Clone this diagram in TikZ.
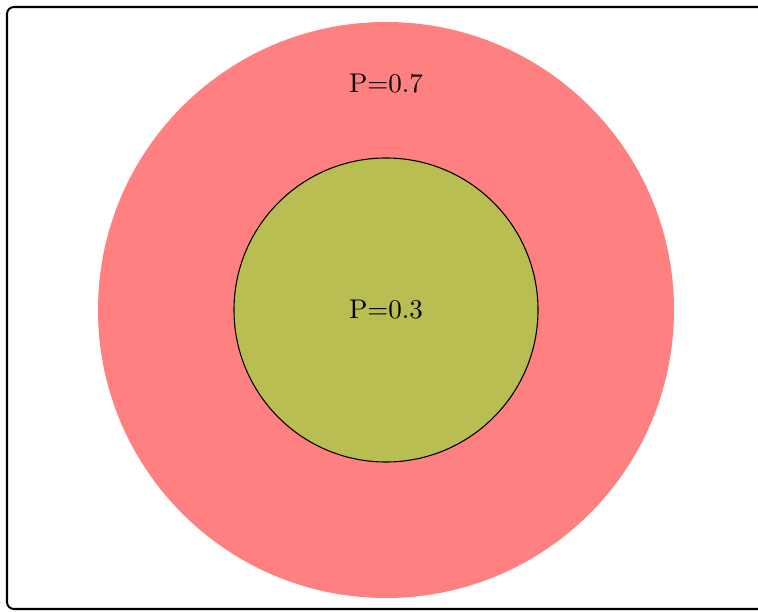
\documentclass[tikz,border=0pt]{standalone}
\definecolor{outerfill}{RGB}{255,128,128}
\definecolor{innerfill}{RGB}{184,190,82}
\tikzset{
  frame/.style={draw=black, line width=0.75pt, rounded corners=2.6pt},
  outer/.style={fill=outerfill, draw=none},
  inner/.style={fill=innerfill, draw=black, line width=0.4pt},
  lbl/.style={font=\normalsize, inner sep=0pt}
}
\begin{document}
\begin{tikzpicture}[x=0.37pt, y=-0.37pt]
  \useasboundingbox (0,0) rectangle (758,612);
  \draw[frame] (7,7) rectangle (775,609);
  \fill[outer] (386,310) circle[radius=288];
  \filldraw[inner] (386,310) circle[radius=152];
  \node[lbl] (outerlabel) at (386,84) {P=0.7};
  \node[lbl] (innerlabel) at (386,310) {P=0.3};
\end{tikzpicture}
\end{document}
